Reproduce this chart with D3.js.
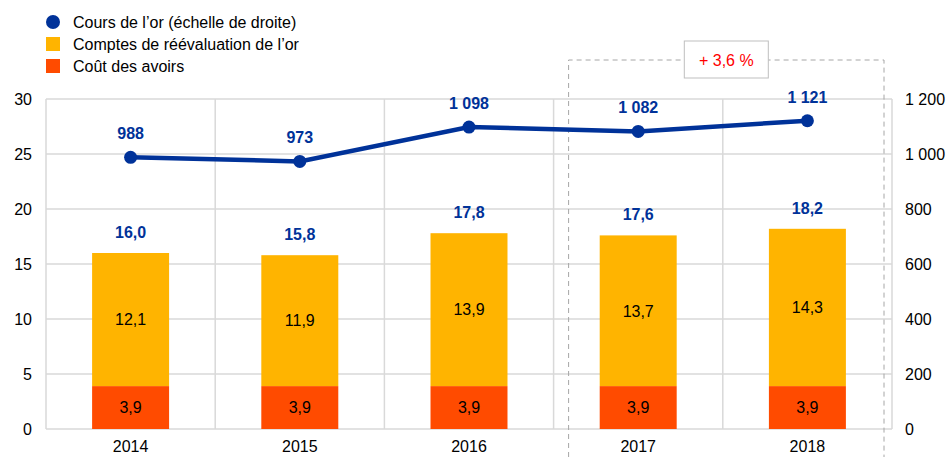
<!DOCTYPE html>
<html>
<head>
<meta charset="utf-8">
<script src="https://cdn.jsdelivr.net/npm/d3@7"></script>
<style>
  body { margin: 0; background: #fff; }
  text { font-family: Arial, "Liberation Sans", sans-serif; }
</style>
</head>
<body>
<div id="plot"></div>
<script>
const years = ['2014', '2015', '2016', '2017', '2018'];
const cost = [3.9, 3.9, 3.9, 3.9, 3.9];
const revaluation = [12.1, 11.9, 13.9, 13.7, 14.3];
const totals = [16.0, 15.8, 17.8, 17.6, 18.2];
const goldPrice = [988, 973, 1098, 1082, 1121];
const leftTicks = [0, 5, 10, 15, 20, 25, 30];
const rightTicks = [0, 200, 400, 600, 800, 1000, 1200];
const growthLabel = '+ 3,6 %';

const blue = '#003299';
const yellow = '#ffb400';
const orange = '#ff4b00';
const grid = '#d9d9d9';
const fontSize = 16;

const width = 947;
const height = 457;
const margin = {t: 99, r: 55, b: 28, l: 46};

const fmtDec = d => d.toFixed(1).replace('.', ',');
const fmtThousands = d => d3.format(',')(d).replace(/,/g, '\u00a0');

const svg = d3.select('#plot')
    .append('svg')
    .attr('width', width)
    .attr('height', height);

const x = d3.scaleBand()
    .domain(years)
    .range([margin.l, width - margin.r]);

const yLeft = d3.scaleLinear()
    .domain([0, 30])
    .range([height - margin.b, margin.t]);

const yRight = d3.scaleLinear()
    .domain([0, 1200])
    .range([height - margin.b, margin.t]);

// gridlines
svg.append('g')
    .selectAll('line')
    .data(leftTicks)
    .join('line')
    .attr('x1', margin.l)
    .attr('x2', width - margin.r)
    .attr('y1', d => yLeft(d))
    .attr('y2', d => yLeft(d))
    .attr('stroke', grid)
    .attr('stroke-width', 1.5);

svg.append('g')
    .selectAll('line')
    .data(d3.range(years.length + 1))
    .join('line')
    .attr('x1', i => margin.l + i * x.bandwidth())
    .attr('x2', i => margin.l + i * x.bandwidth())
    .attr('y1', yLeft(30))
    .attr('y2', yLeft(0))
    .attr('stroke', grid)
    .attr('stroke-width', 1.5);

// axes labels
const axisLeft = svg.append('g')
    .attr('transform', `translate(${margin.l - 14},0)`)
    .call(d3.axisLeft(yLeft).tickValues(leftTicks).tickSize(0).tickPadding(0));
axisLeft.select('.domain').remove();

const axisRight = svg.append('g')
    .attr('transform', `translate(${width - margin.r + 13},0)`)
    .call(d3.axisRight(yRight).tickValues(rightTicks).tickSize(0).tickPadding(0).tickFormat(fmtThousands));
axisRight.select('.domain').remove();

const axisBottom = svg.append('g')
    .attr('transform', `translate(0,${height - margin.b})`)
    .call(d3.axisBottom(x).tickSize(0).tickPadding(0));
axisBottom.select('.domain').remove();

svg.selectAll('.tick text')
    .attr('font-size', fontSize)
    .attr('font-family', 'Arial, "Liberation Sans", sans-serif')
    .attr('fill', '#000');
axisLeft.selectAll('.tick text').attr('dy', '0.36em');
axisRight.selectAll('.tick text').attr('dy', '0.36em');
axisBottom.selectAll('.tick text').attr('y', 23).attr('dy', 0);

// bars
const barW = x.bandwidth() * 0.455;
const bx = d => x(d) + (x.bandwidth() - barW) / 2;
const cx = d => x(d) + x.bandwidth() / 2;

svg.append('g')
    .selectAll('rect')
    .data(years)
    .join('rect')
    .attr('x', bx)
    .attr('width', barW)
    .attr('y', (d, i) => yLeft(cost[i]))
    .attr('height', (d, i) => yLeft(0) - yLeft(cost[i]))
    .attr('fill', orange);

svg.append('g')
    .selectAll('rect')
    .data(years)
    .join('rect')
    .attr('x', bx)
    .attr('width', barW)
    .attr('y', (d, i) => yLeft(cost[i] + revaluation[i]))
    .attr('height', (d, i) => yLeft(cost[i]) - yLeft(cost[i] + revaluation[i]))
    .attr('fill', yellow);

// segment labels
svg.append('g')
    .selectAll('text')
    .data(years)
    .join('text')
    .attr('x', cx)
    .attr('y', (d, i) => yLeft(cost[i] / 2))
    .attr('dy', '0.36em')
    .attr('text-anchor', 'middle')
    .attr('font-size', fontSize)
    .text((d, i) => fmtDec(cost[i]));

svg.append('g')
    .selectAll('text')
    .data(years)
    .join('text')
    .attr('x', cx)
    .attr('y', (d, i) => yLeft(cost[i] + revaluation[i] / 2))
    .attr('dy', '0.36em')
    .attr('text-anchor', 'middle')
    .attr('font-size', fontSize)
    .text((d, i) => fmtDec(revaluation[i]));

// totals
svg.append('g')
    .selectAll('text')
    .data(years)
    .join('text')
    .attr('x', cx)
    .attr('y', (d, i) => yLeft(totals[i]) - 15)
    .attr('text-anchor', 'middle')
    .attr('font-size', fontSize)
    .attr('font-weight', 'bold')
    .attr('fill', blue)
    .text((d, i) => fmtDec(totals[i]));

// dashed box 2017-2018
const boxL = x('2017') + 15;
const boxR = x('2018') + x.bandwidth() - 8;
const boxTop = 60;
svg.append('path')
    .attr('d', `M${boxL},${height}V${boxTop}H${boxR}V${height}`)
    .attr('fill', 'none')
    .attr('stroke', '#a6a6a6')
    .attr('stroke-width', 1)
    .attr('stroke-dasharray', '5,4');

const labelW = 84;
const labelX = (boxL + boxR) / 2 - labelW / 2;
svg.append('rect')
    .attr('x', labelX)
    .attr('y', 41)
    .attr('width', labelW)
    .attr('height', 37)
    .attr('fill', '#fff')
    .attr('stroke', '#bfbfbf');
svg.append('text')
    .attr('x', labelX + labelW / 2)
    .attr('y', 60)
    .attr('dy', '0.36em')
    .attr('text-anchor', 'middle')
    .attr('font-size', fontSize)
    .attr('fill', '#ff0000')
    .text(growthLabel);

// gold price line
const line = d3.line()
    .x((d, i) => cx(years[i]))
    .y(d => yRight(d));

svg.append('path')
    .datum(goldPrice)
    .attr('d', line)
    .attr('fill', 'none')
    .attr('stroke', blue)
    .attr('stroke-width', 4.5);

svg.append('g')
    .selectAll('circle')
    .data(goldPrice)
    .join('circle')
    .attr('cx', (d, i) => cx(years[i]))
    .attr('cy', d => yRight(d))
    .attr('r', 6.5)
    .attr('fill', blue);

svg.append('g')
    .selectAll('text')
    .data(goldPrice)
    .join('text')
    .attr('x', (d, i) => cx(years[i]))
    .attr('y', d => yRight(d) - 18)
    .attr('text-anchor', 'middle')
    .attr('font-size', fontSize)
    .attr('font-weight', 'bold')
    .attr('fill', blue)
    .text(d => fmtThousands(d));

// legend
const legendItems = [
    {label: 'Cours de l\u2019or (\u00e9chelle de droite)', color: blue, shape: 'circle'},
    {label: 'Comptes de r\u00e9\u00e9valuation de l\u2019or', color: yellow, shape: 'rect'},
    {label: 'Co\u00fbt des avoirs', color: orange, shape: 'rect'}
];

const legend = svg.append('g')
    .selectAll('g')
    .data(legendItems)
    .join('g')
    .attr('transform', (d, i) => `translate(53,${22 + i * 22})`);

legend.filter(d => d.shape === 'circle')
    .append('circle')
    .attr('r', 7)
    .attr('fill', d => d.color);

legend.filter(d => d.shape === 'rect')
    .append('rect')
    .attr('x', -7)
    .attr('y', -7)
    .attr('width', 14)
    .attr('height', 14)
    .attr('fill', d => d.color);

legend.append('text')
    .attr('x', 20)
    .attr('dy', '0.36em')
    .attr('font-size', fontSize)
    .text(d => d.label);
</script>
</body>
</html>
